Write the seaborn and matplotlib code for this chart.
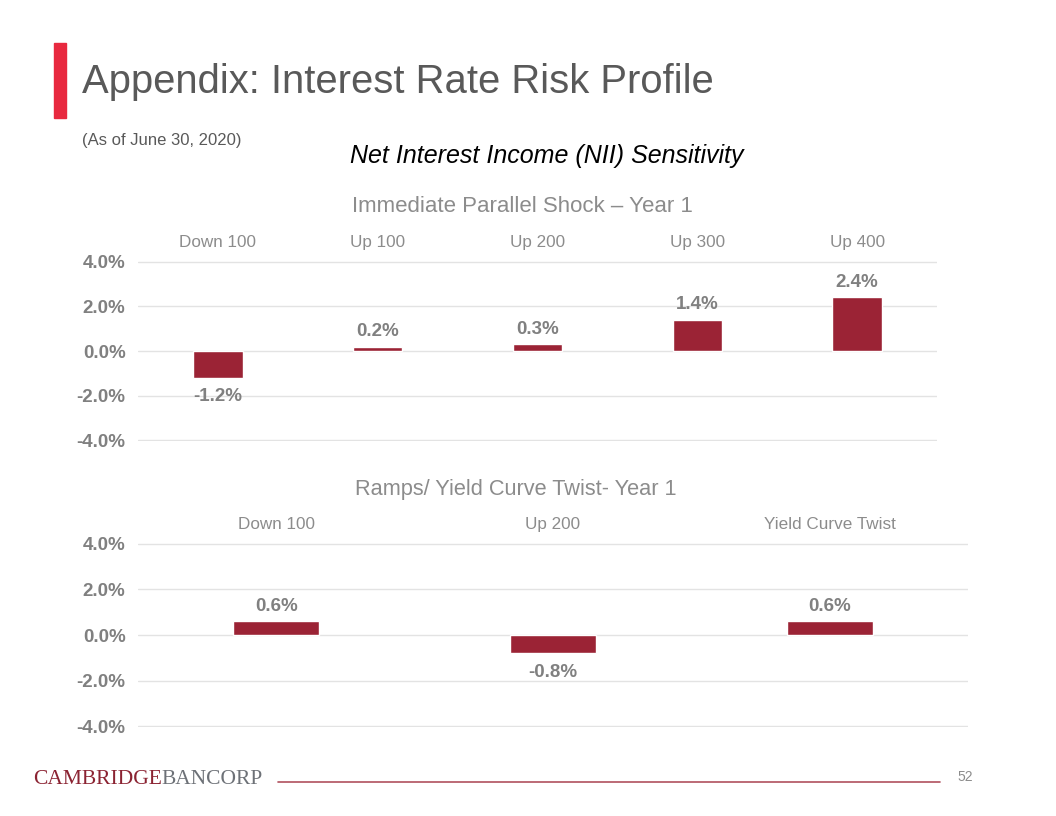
import pandas as pd
import matplotlib.pyplot as plt
import seaborn as sns
from matplotlib.patches import Rectangle
from matplotlib.lines import Line2D

# data
shock_labels = ["Down 100", "Up 100", "Up 200", "Up 300", "Up 400"]
shock_values = [-1.2, 0.2, 0.3, 1.4, 2.4]
ramp_labels = ["Down 100", "Up 200", "Yield Curve Twist"]
ramp_values = [0.6, -0.8, 0.6]
y_ticks = [-4.0, -2.0, 0.0, 2.0, 4.0]

BAR = "#9B2335"
TICK_GREY = "#808080"
CAT_GREY = "#8C8C8C"
W, H = 1056, 816

sns.set_theme(style="white")
plt.rcParams["font.family"] = ["Liberation Sans", "DejaVu Sans"]


def px(x, y):
    return x / W, 1 - y / H


def draw_panel(ax, labels, values):
    df = pd.DataFrame({"scenario": labels, "nii": values})
    sns.barplot(data=df, x="scenario", y="nii", color=BAR, width=0.31,
                saturation=1, ax=ax)
    ax.set_ylim(-4.03, 4.03)
    ax.set_xlim(-0.5, len(labels) - 0.5)
    ax.set_yticks(y_ticks)
    ax.set_yticklabels([f"{t:.1f}%" for t in y_ticks], fontsize=13.5,
                       fontweight="bold", color=TICK_GREY)
    ax.yaxis.grid(True, color="#E3E3E3", linewidth=1)
    ax.set_axisbelow(True)
    ax.xaxis.tick_top()
    ax.tick_params(axis="x", length=0, pad=8, labelsize=12.3, labelcolor=CAT_GREY)
    ax.tick_params(axis="y", length=0, pad=9)
    ax.set_xlabel("")
    ax.set_ylabel("")
    for s in ax.spines.values():
        s.set_visible(False)
    for i, v in enumerate(values):
        off = 0.28 if v >= 0 else -0.45
        ax.text(i, v + off, f"{v:.1f}%", ha="center",
                va="bottom" if v >= 0 else "top",
                fontsize=13.5, fontweight="bold", color=TICK_GREY)


fig = plt.figure(figsize=(10.56, 8.16), dpi=100)

# slide header
fig.patches.append(Rectangle(px(54, 118), 12 / W, 75 / H, color="#E8293F",
                             transform=fig.transFigure))
fig.text(*px(82, 82), "Appendix: Interest Rate Risk Profile", fontsize=28.8,
         color="#595959", va="center")
fig.text(*px(82, 140), "(As of June 30, 2020)", fontsize=12, color="#595959",
         va="center")
fig.text(*px(547, 156), "Net Interest Income (NII) Sensitivity", fontsize=18,
         style="italic", color="black", ha="center", va="center")

# top panel
fig.text(*px(522, 206), "Immediate Parallel Shock \u2013 Year 1", fontsize=16,
         color=CAT_GREY, ha="center", va="center")
ax1 = fig.add_axes([138 / W, 1 - 441 / H, (937 - 138) / W, 180 / H])
draw_panel(ax1, shock_labels, shock_values)

# bottom panel
fig.text(*px(516, 489), "Ramps/ Yield Curve Twist- Year 1", fontsize=15.7,
         color=CAT_GREY, ha="center", va="center")
ax2 = fig.add_axes([138 / W, 1 - 727 / H, (968 - 138) / W, 184 / H])
draw_panel(ax2, ramp_labels, ramp_values)

# footer
fig.text(*px(33, 779), "CAMBRIDGE", fontsize=15.5, color="#8B2332",
         family="Liberation Serif", va="center")
fig.text(*px(161, 779), "BANCORP", fontsize=15.5, color="#6D7177",
         family="Liberation Serif", va="center")
fig.lines.append(Line2D([278 / W, 940 / W], [1 - 782 / H, 1 - 782 / H],
                        color="#B0505E", linewidth=1.2, transform=fig.transFigure))
fig.text(*px(965, 777), "52", fontsize=10, color="#8C8C8C", ha="center", va="center")

fig.savefig("out.png", dpi=100)
